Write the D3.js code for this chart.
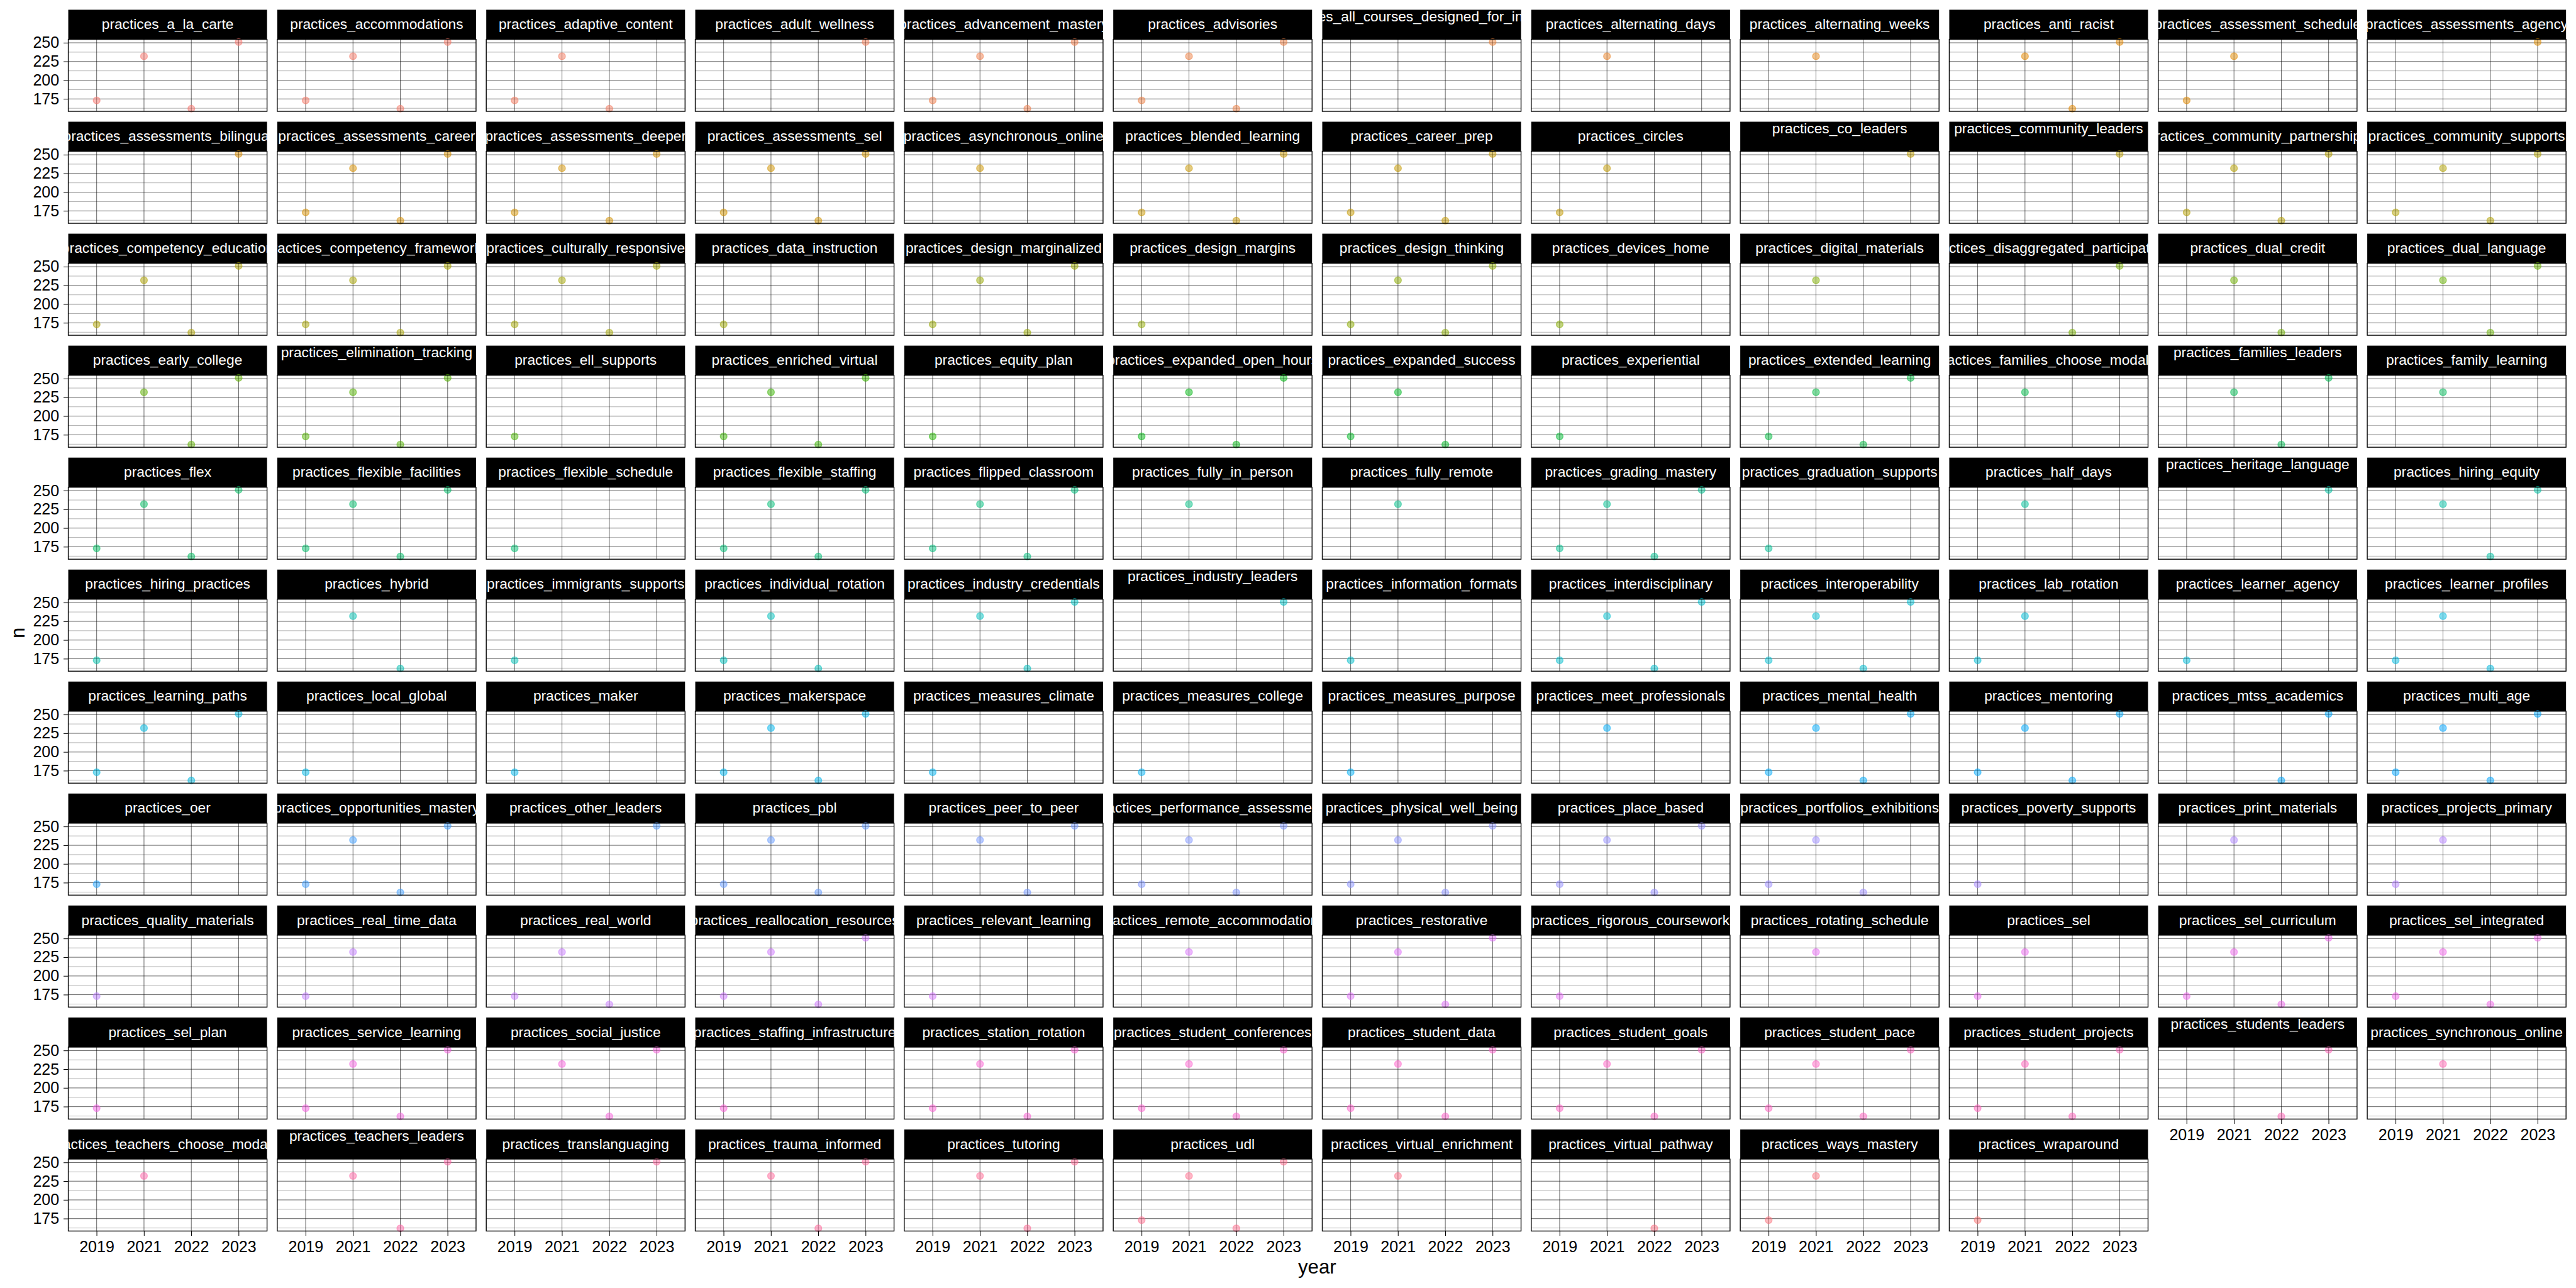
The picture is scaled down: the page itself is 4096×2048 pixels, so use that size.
<!DOCTYPE html>
<html>
<head>
<meta charset="utf-8">
<script src="https://cdn.jsdelivr.net/npm/d3@7"></script>
<style>
  html, body { margin: 0; padding: 0; background: #ffffff; }
  svg { display: block; }
</style>
</head>
<body>
<svg id="chart" width="4096" height="2048"></svg>
<script>
// ---------------- data ----------------
const years = ["2019", "2021", "2022", "2023"];
const nByYear = [173, 232, 162, 251];

const practices = [
  "practices_a_la_carte", "practices_accommodations", "practices_adaptive_content", "practices_adult_wellness",
  "practices_advancement_mastery", "practices_advisories", "practices_all_courses_designed_for_inclusion", "practices_alternating_days",
  "practices_alternating_weeks", "practices_anti_racist", "practices_assessment_schedule", "practices_assessments_agency",
  "practices_assessments_bilingual", "practices_assessments_career", "practices_assessments_deeper", "practices_assessments_sel",
  "practices_asynchronous_online", "practices_blended_learning", "practices_career_prep", "practices_circles",
  "practices_co_leaders", "practices_community_leaders", "practices_community_partnerships", "practices_community_supports",
  "practices_competency_education", "practices_competency_frameworks", "practices_culturally_responsive", "practices_data_instruction",
  "practices_design_marginalized", "practices_design_margins", "practices_design_thinking", "practices_devices_home",
  "practices_digital_materials", "practices_disaggregated_participation", "practices_dual_credit", "practices_dual_language",
  "practices_early_college", "practices_elimination_tracking", "practices_ell_supports", "practices_enriched_virtual",
  "practices_equity_plan", "practices_expanded_open_hours", "practices_expanded_success", "practices_experiential",
  "practices_extended_learning", "practices_families_choose_modality", "practices_families_leaders", "practices_family_learning",
  "practices_flex", "practices_flexible_facilities", "practices_flexible_schedule", "practices_flexible_staffing",
  "practices_flipped_classroom", "practices_fully_in_person", "practices_fully_remote", "practices_grading_mastery",
  "practices_graduation_supports", "practices_half_days", "practices_heritage_language", "practices_hiring_equity",
  "practices_hiring_practices", "practices_hybrid", "practices_immigrants_supports", "practices_individual_rotation",
  "practices_industry_credentials", "practices_industry_leaders", "practices_information_formats", "practices_interdisciplinary",
  "practices_interoperability", "practices_lab_rotation", "practices_learner_agency", "practices_learner_profiles",
  "practices_learning_paths", "practices_local_global", "practices_maker", "practices_makerspace",
  "practices_measures_climate", "practices_measures_college", "practices_measures_purpose", "practices_meet_professionals",
  "practices_mental_health", "practices_mentoring", "practices_mtss_academics", "practices_multi_age",
  "practices_oer", "practices_opportunities_mastery", "practices_other_leaders", "practices_pbl",
  "practices_peer_to_peer", "practices_performance_assessments", "practices_physical_well_being", "practices_place_based",
  "practices_portfolios_exhibitions", "practices_poverty_supports", "practices_print_materials", "practices_projects_primary",
  "practices_quality_materials", "practices_real_time_data", "practices_real_world", "practices_reallocation_resources",
  "practices_relevant_learning", "practices_remote_accommodations", "practices_restorative", "practices_rigorous_coursework",
  "practices_rotating_schedule", "practices_sel", "practices_sel_curriculum", "practices_sel_integrated",
  "practices_sel_plan", "practices_service_learning", "practices_social_justice", "practices_staffing_infrastructure",
  "practices_station_rotation", "practices_student_conferences", "practices_student_data", "practices_student_goals",
  "practices_student_pace", "practices_student_projects", "practices_students_leaders", "practices_synchronous_online",
  "practices_teachers_choose_modality", "practices_teachers_leaders", "practices_translanguaging", "practices_trauma_informed",
  "practices_tutoring", "practices_udl", "practices_virtual_enrichment", "practices_virtual_pathway",
  "practices_ways_mastery", "practices_wraparound"
];

// years in which each practice has a point (same order as practices)
const presentYears = [
  "2019 2021 2022 2023", "2019 2021 2022 2023", "2019 2021 2022", "2023",
  "2019 2021 2022 2023", "2019 2021 2022 2023", "2023", "2021",
  "2021", "2021 2022 2023", "2019 2021", "2023",
  "2023", "2019 2021 2022 2023", "2019 2021 2022 2023", "2019 2021 2022 2023",
  "2021", "2019 2021 2022 2023", "2019 2021 2022 2023", "2019 2021",
  "2023", "2023", "2019 2021 2022 2023", "2019 2021 2022 2023",
  "2019 2021 2022 2023", "2019 2021 2022 2023", "2019 2021 2022 2023", "2019",
  "2019 2021 2022 2023", "2019", "2019 2021 2022 2023", "2019",
  "2021", "2022 2023", "2021 2022", "2021 2022 2023",
  "2021 2022 2023", "2019 2021 2022 2023", "2019", "2019 2021 2022 2023",
  "2019", "2019 2021 2022 2023", "2019 2021 2022", "2019",
  "2019 2021 2022 2023", "2021", "2021 2022 2023", "2021",
  "2019 2021 2022 2023", "2019 2021 2022 2023", "2019", "2019 2021 2022 2023",
  "2019 2021 2022 2023", "2021", "2021", "2019 2021 2022 2023",
  "2019", "2021", "2023", "2021 2022 2023",
  "2019", "2021 2022", "2019", "2019 2021 2022",
  "2021 2022 2023", "2023", "2019", "2019 2021 2022 2023",
  "2019 2021 2022 2023", "2019 2021", "2019", "2019 2021 2022",
  "2019 2021 2022 2023", "2019", "2019", "2019 2021 2022 2023",
  "2019", "2019", "2019", "2021",
  "2019 2021 2022 2023", "2019 2021 2022 2023", "2022 2023", "2019 2021 2022 2023",
  "2019", "2019 2021 2022 2023", "2023", "2019 2021 2022 2023",
  "2021 2022 2023", "2019 2021 2022 2023", "2019 2021 2022 2023", "2019 2021 2022 2023",
  "2019 2021 2022", "2019", "2021", "2019 2021",
  "2019", "2019 2021", "2019 2021 2022", "2019 2021 2022 2023",
  "2019", "2021", "2019 2021 2022 2023", "2019",
  "2021", "2019 2021", "2019 2021 2022 2023", "2019 2021 2022 2023",
  "2019", "2019 2021 2022 2023", "2021 2022 2023", "2019",
  "2019 2021 2022 2023", "2019 2021 2022 2023", "2019 2021 2022 2023", "2019 2021 2022 2023",
  "2019 2021 2022 2023", "2019 2021 2022 2023", "2022 2023", "2021",
  "2021", "2021 2022 2023", "2023", "2021 2022 2023",
  "2021 2022 2023", "2019 2021 2022 2023", "2021", "2022",
  "2019 2021", "2019"
];

// strip labels that sit higher in their strip in the original
const raisedStrips = [
  "practices_all_courses_designed_for_inclusion", "practices_co_leaders", "practices_community_leaders",
  "practices_elimination_tracking", "practices_families_leaders", "practices_heritage_language",
  "practices_industry_leaders", "practices_students_leaders", "practices_teachers_leaders"
];

const yTicks = [175, 200, 225, 250];
const yMinorTicks = [162.5, 187.5, 212.5, 237.5];
const xTitle = "year";
const yTitle = "n";

// ---------------- layout (reference pixel units, scaled by K) ----------------
const K = 4096 / 6000;
const NCOL = 12;
const left0 = 159, top0 = 22.7;
const panelW = 463, colStep = 486.8;
const stripH = 69, panelH = 167.6, rowStep = 260.8;
const FONT = "'Liberation Sans', Arial, Helvetica, sans-serif";

// ggplot2-style hue palette (R hcl(): polar CIE-LUV)
function hclR(h, c, l) {
  const hr = h * Math.PI / 180;
  const U = c * Math.cos(hr), V = c * Math.sin(hr);
  const Y = (l > 7.999592) ? Math.pow((l + 16) / 116, 3) : l / 903.3;
  const u = U / (13 * l) + 0.1978398, v = V / (13 * l) + 0.4683363;
  const X = 9 * Y * u / (4 * v);
  const Z = -X / 3 - 5 * Y + 3 * Y / v;
  const gt = t => {
    t = t > 0.00304 ? 1.055 * Math.pow(t, 1 / 2.4) - 0.055 : 12.92 * t;
    return Math.max(0, Math.min(1, t));
  };
  const r = gt(3.240479 * X - 1.537150 * Y - 0.498535 * Z);
  const g = gt(-0.969256 * X + 1.875992 * Y + 0.041556 * Z);
  const b = gt(0.055648 * X - 0.204043 * Y + 1.057311 * Z);
  return d3.rgb(Math.round(r * 255), Math.round(g * 255), Math.round(b * 255)).formatHex();
}
const nP = practices.length;
const color = d3.scaleOrdinal(practices, practices.map((p, i) => hclR(15 + i * 360 / nP, 100, 65)));

// scales
const x = d3.scalePoint().domain(years).range([0, panelW]).padding(0.6);
const ext = d3.extent(nByYear);
const pad = (ext[1] - ext[0]) * 0.04;
const y = d3.scaleLinear().domain([ext[0] - pad, ext[1] + pad]).range([panelH, 0]);

const svg = d3.select("#chart");
svg.append("rect").attr("width", 4096).attr("height", 2048).attr("fill", "#ffffff");
const root = svg.append("g").attr("transform", `scale(${K})`);

const defs = svg.append("defs");
defs.append("clipPath").attr("id", "stripClip")
  .append("rect").attr("x", 0).attr("y", 0).attr("width", panelW).attr("height", stripH);

const nRows = Math.ceil(nP / NCOL);

practices.forEach((name, i) => {
  const col = i % NCOL, row = Math.floor(i / NCOL);
  const g = root.append("g")
    .attr("transform", `translate(${left0 + col * colStep},${top0 + row * rowStep})`);

  // strip
  g.append("rect").attr("x", 0).attr("y", 0).attr("width", panelW).attr("height", stripH)
    .attr("fill", "#000000");
  g.append("text")
    .attr("clip-path", "url(#stripClip)")
    .attr("x", panelW / 2)
    .attr("y", raisedStrips.includes(name) ? 27 : 45)
    .attr("text-anchor", "middle")
    .attr("font-family", FONT)
    .attr("font-size", 33.3)
    .attr("fill", "#ffffff")
    .text(name);

  // panel
  const p = g.append("g").attr("transform", `translate(0,${stripH})`);
  p.append("rect").attr("width", panelW).attr("height", panelH).attr("fill", "#ffffff");

  p.selectAll("line.minor").data(yMinorTicks).join("line")
    .attr("class", "minor")
    .attr("x1", 0).attr("x2", panelW)
    .attr("y1", d => y(d)).attr("y2", d => y(d))
    .attr("stroke", "#000").attr("stroke-width", 0.45);
  p.selectAll("line.majorY").data(yTicks).join("line")
    .attr("class", "majorY")
    .attr("x1", 0).attr("x2", panelW)
    .attr("y1", d => y(d)).attr("y2", d => y(d))
    .attr("stroke", "#000").attr("stroke-width", 0.9);
  p.selectAll("line.majorX").data(years).join("line")
    .attr("class", "majorX")
    .attr("x1", d => x(d)).attr("x2", d => x(d))
    .attr("y1", 0).attr("y2", panelH)
    .attr("stroke", "#000").attr("stroke-width", 0.9);

  const pts = presentYears[i].split(" ").map(yr => ({ year: yr, n: nByYear[years.indexOf(yr)] }));
  p.selectAll("circle").data(pts).join("circle")
    .attr("cx", d => x(d.year))
    .attr("cy", d => y(d.n))
    .attr("r", 8)
    .attr("fill", color(name)).attr("fill-opacity", 0.5)
    .attr("stroke", color(name)).attr("stroke-opacity", 0.5).attr("stroke-width", 2);

  p.append("rect").attr("width", panelW).attr("height", panelH)
    .attr("fill", "none").attr("stroke", "#000").attr("stroke-width", 2);

  // y axis on first column
  if (col === 0) {
    const ay = p.append("g").call(d3.axisLeft(y).tickValues(yTicks).tickSize(11).tickPadding(10));
    ay.select(".domain").remove();
    ay.selectAll(".tick line").attr("stroke", "#000").attr("stroke-width", 1.5);
    ay.selectAll(".tick text").attr("font-family", FONT).attr("font-size", 36.7).attr("fill", "#000");
  }
  // x axis on bottom-most panel of each column
  if (i + NCOL >= nP) {
    const ax = p.append("g").attr("transform", `translate(0,${panelH})`)
      .call(d3.axisBottom(x).tickSize(11).tickPadding(12));
    ax.select(".domain").remove();
    ax.selectAll(".tick line").attr("stroke", "#000").attr("stroke-width", 1.5);
    ax.selectAll(".tick text").attr("font-family", FONT).attr("font-size", 36.7).attr("fill", "#000")
      .attr("dy", "0.71em");
  }
});

// axis titles
const gridLeft = left0, gridRight = left0 + (NCOL - 1) * colStep + panelW;
root.append("text")
  .attr("x", (gridLeft + gridRight) / 2)
  .attr("y", 2966)
  .attr("text-anchor", "middle")
  .attr("font-family", FONT).attr("font-size", 45.8).attr("fill", "#000")
  .text(xTitle);
root.append("text")
  .attr("transform", `translate(57,1474) rotate(-90)`)
  .attr("text-anchor", "middle")
  .attr("font-family", FONT).attr("font-size", 45.8).attr("fill", "#000")
  .text(yTitle);
</script>
</body>
</html>
